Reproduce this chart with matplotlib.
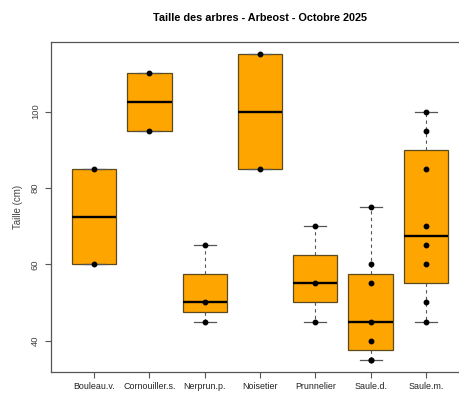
import math
import matplotlib
matplotlib.use("Agg")
import matplotlib.pyplot as plt
import numpy as np

especes = ["Bouleau.v.", "Cornouiller.s.", "Nerprun.p.", "Noisetier",
           "Prunnelier", "Saule.d.", "Saule.m."]
bouleau = [60, 85]
cornouiller = [95, 110]
nerprun = [45, 50, 65]
noisetier = [85, 115]
prunnelier = [45, 55, 70]
saule_d = [35, 35, 40, 45, 55, 60, 75]
saule_m = [45, 50, 60, 65, 70, 85, 95, 100]
tailles = [bouleau, cornouiller, nerprun, noisetier, prunnelier, saule_d, saule_m]
yticks = [40, 60, 80, 100]

plt.rcParams["font.family"] = ["Liberation Sans Narrow", "Liberation Sans", "DejaVu Sans"]


def fivenum(x):
    # Tukey hinges, same as R's fivenum()
    x = sorted(x)
    n = len(x)
    n4 = math.floor((n + 3) / 2) / 2
    d = [1, n4, (n + 1) / 2, n + 1 - n4, n]
    return [0.5 * (x[math.floor(k - 1)] + x[math.ceil(k - 1)]) for k in d]


stats = []
for vals, nom in zip(tailles, especes):
    mn, q1, med, q3, mx = fivenum(vals)
    iqr = q3 - q1
    lo = min(v for v in vals if v >= q1 - 1.5 * iqr)
    hi = max(v for v in vals if v <= q3 + 1.5 * iqr)
    stats.append(dict(med=med, q1=q1, q3=q3, whislo=lo, whishi=hi,
                      fliers=[], label=nom))

fig = plt.figure(figsize=(4.59, 3.96), dpi=100)
ax = fig.add_axes([51 / 459, 24 / 396, 418 / 459, 330 / 396])

ax.bxp(stats, positions=range(1, 8), widths=0.8, patch_artist=True,
       showfliers=False,
       boxprops=dict(facecolor="#FFA500", edgecolor="#5c4a1f", linewidth=0.9),
       medianprops=dict(color="black", linewidth=1.7, solid_capstyle="butt"),
       whiskerprops=dict(color="#555555", linewidth=0.8, linestyle=(0, (3, 3))),
       capprops=dict(color="#555555", linewidth=0.9),
       capwidths=0.4)

# individual trees on top of the boxes
for i, vals in enumerate(tailles):
    ax.plot([i + 1] * len(vals), vals, "o", color="black", markersize=3.2,
            zorder=5)

ax.set_xlim(0.22, 7.78)
ax.set_ylim(31.8, 118.2)
ax.set_yticks(yticks)
ax.set_yticklabels([str(v) for v in yticks], rotation=90, va="center",
                   fontsize=6.8, color="#444444")
ax.set_xticks(range(1, 8))
ax.set_xticklabels(especes, fontsize=6.4, color="#222222")
ax.tick_params(axis="both", length=4, width=0.8, color="#555555", pad=3)
ax.tick_params(axis="y", pad=4)
for s in ax.spines.values():
    s.set_color("#555555")
    s.set_linewidth(0.9)

ax.set_ylabel("Taille (cm)", fontsize=7, color="#444444", labelpad=6)
fig.text(260 / 459, 1 - 18 / 396, "Taille des arbres - Arbeost - Octobre 2025",
         ha="center", va="center", fontsize=7.8, fontweight="bold")

fig.savefig("out.png", dpi=100)
